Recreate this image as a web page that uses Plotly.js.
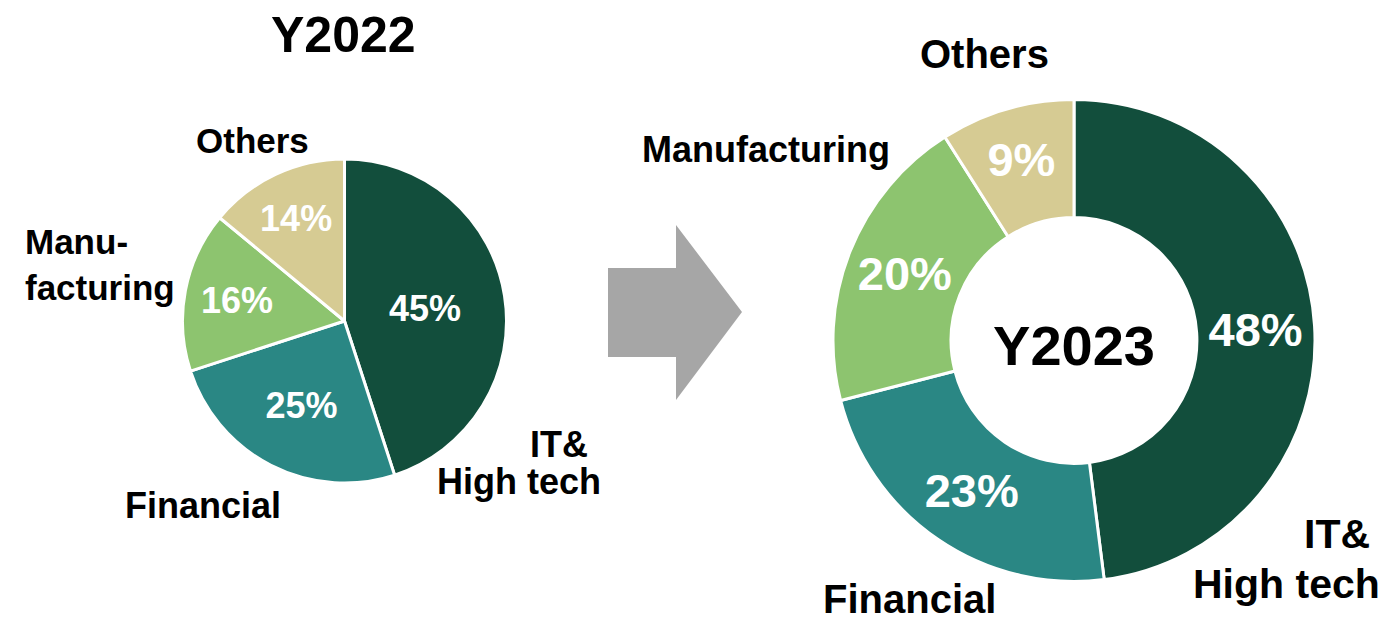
<!DOCTYPE html>
<html>
<head>
<meta charset="utf-8">
<script src="https://cdn.plot.ly/plotly-3.0.1.min.js"></script>
<style>html,body{margin:0;padding:0;background:#fff;}#chart{width:1387px;height:623px;}</style>
</head>
<body>
<div id="chart"></div>
<script>
// ---- data ----
const categories = ["IT& High tech", "Financial", "Manufacturing", "Others"];
const values2022 = [45, 25, 16, 14];
const values2023 = [48, 23, 20, 9];
const labels2022 = ["IT&<br>High tech", "Financial", "Manu-<br>facturing", "Others"];
const labels2023 = ["IT&<br>High tech", "Financial", "Manufacturing", "Others"];
const titles = ["Y2022", "Y2023"];
const colors = ["#124E3C", "#2A8784", "#8DC46F", "#D6CB93"];

// ---- layout helpers ----
const W = 1387, H = 623;
const px = x => x / W;
const py = y => 1 - y / H;
const FONT = '"Liberation Sans", Arial, sans-serif';

const trace2022 = {
  type: 'pie', values: values2022, labels: categories, sort: false,
  direction: 'clockwise', rotation: 0,
  marker: {colors: colors, line: {color: '#ffffff', width: 3}},
  texttemplate: '%{value}%', textposition: 'inside', insidetextorientation: 'horizontal',
  textfont: {family: FONT, size: 36, color: '#ffffff', weight: 700},
  domain: {x: [px(182.5), px(506.5)], y: [py(483), py(159)]},
  showlegend: false, hoverinfo: 'label+percent'
};
const trace2023 = {
  type: 'pie', values: values2023, labels: categories, sort: false, hole: 0.51,
  direction: 'clockwise', rotation: 0,
  marker: {colors: colors, line: {color: '#ffffff', width: 3}},
  texttemplate: '%{value}%', textposition: 'inside', insidetextorientation: 'horizontal',
  textfont: {family: FONT, size: 47, color: '#ffffff', weight: 700},
  title: {text: titles[1], position: 'middle center', font: {family: FONT, size: 56, color: '#000', weight: 700}},
  domain: {x: [px(833), px(1315)], y: [py(582), py(99)]},
  showlegend: false, hoverinfo: 'label+percent'
};

// label positions (pixel centres), one entry per text line
const pos2022 = [[[559, 444], [519, 481]], [[203, 506]], [[23, 264, 'left']], [[252, 140]]];
const pos2023 = [[[1337, 534], [1286, 584]], [[909, 599]], [[766, 149]], [[984, 54]]];
const sizes2022 = [36, 36, 35, 35];
const sizes2023 = [41, 40, 36, 40];

const annotations = [];
function addLabels(labels, pos, sizes) {
  labels.forEach((lab, i) => {
    const p = pos[i];
    const lines = p.length > 1 ? lab.split('<br>') : [lab];
    lines.forEach((t, j) => {
      const q = p[j];
      annotations.push({
        text: t, xref: 'paper', yref: 'paper', x: px(q[0]), y: py(q[1]),
        xanchor: q[2] || 'center', yanchor: 'middle', align: q[2] || 'center', showarrow: false,
        font: {family: FONT, size: sizes[i], color: '#000', weight: 700}
      });
    });
  });
}
addLabels(labels2022, pos2022, sizes2022);
addLabels(labels2023, pos2023, sizes2023);
annotations.push({
  text: titles[0], xref: 'paper', yref: 'paper', x: px(343), y: py(35),
  xanchor: 'center', yanchor: 'middle', showarrow: false,
  font: {family: FONT, size: 50, color: '#000', weight: 700}
});

// arrow shape
const arrowPts = [[608, 268], [676, 268], [676, 225], [742, 312], [676, 400], [676, 357], [608, 357]];
const arrowPath = 'M ' + arrowPts.map(p => px(p[0]) + ',' + py(p[1])).join(' L ') + ' Z';

const layout = {
  width: W, height: H, margin: {l: 0, r: 0, t: 0, b: 0},
  paper_bgcolor: '#ffffff', plot_bgcolor: '#ffffff',
  annotations: annotations,
  shapes: [{type: 'path', xref: 'paper', yref: 'paper', path: arrowPath,
            fillcolor: '#A6A6A6', line: {width: 0}}]
};

Plotly.newPlot('chart', [trace2022, trace2023], layout, {displayModeBar: false, staticPlot: true});
</script>
</body>
</html>
